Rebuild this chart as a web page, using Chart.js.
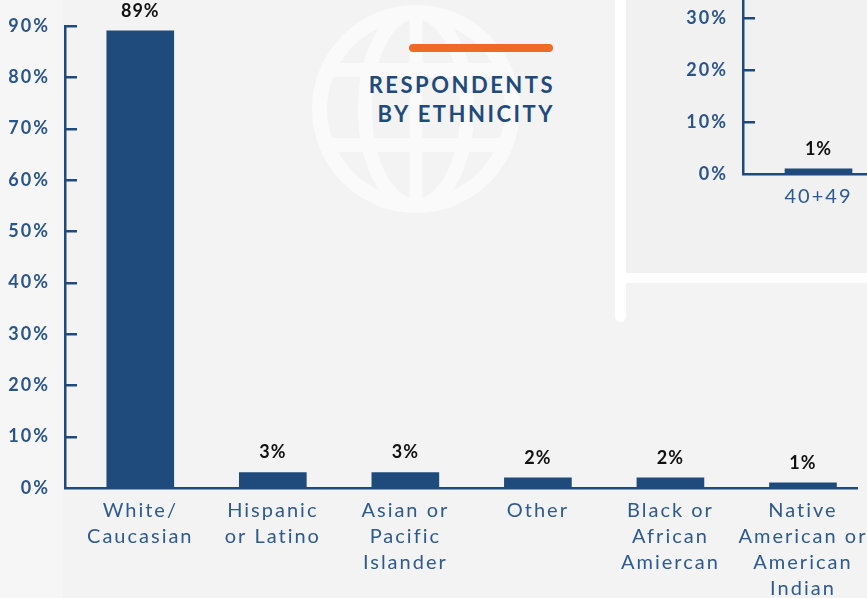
<!DOCTYPE html>
<html>
<head>
<meta charset="utf-8">
<script src="https://cdn.jsdelivr.net/npm/chart.js@4"></script>
<style>
  html, body { margin: 0; padding: 0; }
  body { width: 867px; height: 598px; overflow: hidden; position: relative; background: #f3f3f3; font-family: Lato, sans-serif; }
  .strip { position: absolute; left: 0; top: 0; width: 63px; height: 598px; background: #f6f6f6; }
  .panel { position: absolute; left: 625px; top: 0; width: 260px; height: 273px; background: #f1f1f1; }
  .frame-v { position: absolute; left: 615px; top: -20px; width: 11px; height: 342px; background: #fff; border-radius: 6px; }
  .frame-h { position: absolute; left: 620px; top: 273px; width: 260px; height: 10px; background: #fff; }
  #globe { position: absolute; left: 0; top: 0; }
  .rule { position: absolute; left: 409px; top: 44px; width: 144px; height: 8px; border-radius: 4px; background: #ef6a27; }
  .title { position: absolute; right: 312px; top: 70px; margin: 0; text-align: right; font: 700 22px/29px Lato, sans-serif; letter-spacing: 2.5px; color: #1f4a7c; }
  #main { position: absolute; left: 0; top: 0; }
  .inset { position: absolute; left: 630px; top: -70px; width: 300px; height: 300px; }
</style>
</head>
<body>
<div class="strip"></div>
<div class="panel"></div>
<div class="frame-v"></div>
<div class="frame-h"></div>

<svg id="globe" width="867" height="598">
  <defs>
    <clipPath id="globeInside"><circle cx="416" cy="109" r="92"/></clipPath>
  </defs>
  <g fill="none" stroke="#fafafa">
    <circle cx="416" cy="109" r="96.5" stroke-width="15"/>
    <g clip-path="url(#globeInside)">
      <ellipse cx="416" cy="109" rx="51" ry="97" stroke-width="14"/>
      <line x1="416" y1="0" x2="416" y2="220" stroke-width="13"/>
      <line x1="300" y1="70" x2="540" y2="70" stroke-width="14"/>
      <line x1="300" y1="145" x2="540" y2="145" stroke-width="14"/>
    </g>
  </g>
</svg>

<div class="rule"></div>
<p class="title">RESPONDENTS<br>BY ETHNICITY</p>

<div class="inset"><canvas id="ages" width="300" height="300"></canvas></div>
<canvas id="main" width="867" height="598"></canvas>

<script>
const ethnicities = [
  ['White/', 'Caucasian'],
  ['Hispanic', 'or Latino'],
  ['Asian or', 'Pacific', 'Islander'],
  ['Other'],
  ['Black or', 'African', 'Amiercan'],
  ['Native', 'American or', 'American', 'Indian']
];
const ethnicityShares = [89, 3, 3, 2, 2, 1];

const ageGroups = ['40+49'];
const ageShares = [1];

const NAVY = '#1f4a7c';
const TICK_BLUE = '#2a5589';
const LABEL_BLUE = '#2e5a8d';

// axis text is letter-spaced like the rest of the layout
const spacedText = {
  id: 'spacedText',
  beforeDraw(chart) { chart.ctx.letterSpacing = '2px'; }
};

// short tick marks pointing into the plot from the y axis
const innerTicks = {
  id: 'innerTicks',
  afterDraw(chart) {
    const {ctx, chartArea, scales: {y}} = chart;
    ctx.save();
    ctx.strokeStyle = NAVY;
    ctx.lineWidth = 2.5;
    y.ticks.forEach(t => {
      if (t.value === 0) return;
      const py = Math.round(y.getPixelForValue(t.value)) + 0.25;
      ctx.beginPath();
      ctx.moveTo(chartArea.left, py);
      ctx.lineTo(chartArea.left + 12, py);
      ctx.stroke();
    });
    ctx.restore();
  }
};

// percentage written above each bar
const valueLabels = {
  id: 'valueLabels',
  afterDatasetsDraw(chart) {
    const {ctx} = chart;
    const ds = chart.data.datasets[0];
    ctx.save();
    ctx.letterSpacing = '1px';
    ctx.font = 'bold 18px Lato';
    ctx.fillStyle = '#111';
    ctx.textAlign = 'center';
    ctx.textBaseline = 'bottom';
    chart.getDatasetMeta(0).data.forEach((bar, i) => {
      const v = typeof ds.data[i] === 'object' ? ds.data[i].y : ds.data[i];
      ctx.fillText(v + '%', bar.x, bar.y - 11);
    });
    ctx.restore();
  }
};

function yAxis(max, width) {
  return {
    min: 0,
    max: max,
    grid: { display: false, drawTicks: false },
    border: { display: true, color: NAVY, width: 2.5 },
    ticks: {
      stepSize: 10,
      padding: 15,
      color: TICK_BLUE,
      font: { family: 'Lato', size: 18, weight: 'bold' },
      callback: v => v + '%'
    },
    afterFit: s => { s.width = width; }
  };
}

const xTickStyle = {
  maxRotation: 0,
  autoSkip: false,
  padding: 10,
  color: LABEL_BLUE,
  font: { family: 'Lato', size: 20, lineHeight: 1.3 }
};

// the x axis is numeric so the first bar can sit a little away from the y axis;
// one tick per category index carries the category name
new Chart(document.getElementById('main'), {
  type: 'bar',
  data: {
    datasets: [{
      data: ethnicityShares.map((v, i) => ({ x: i, y: v })),
      backgroundColor: NAVY,
      barThickness: 67
    }]
  },
  options: {
    responsive: false,
    animation: false,
    devicePixelRatio: 1,
    layout: { padding: { top: 23, right: 8, bottom: 0, left: 0 } },
    plugins: { legend: { display: false }, tooltip: { enabled: false } },
    scales: {
      x: {
        type: 'linear',
        offset: false,
        bounds: 'data',
        min: -0.568,
        max: 5.41,
        grid: { display: false, drawTicks: false, offset: false },
        border: { display: true, color: NAVY, width: 2.5 },
        ticks: Object.assign({}, xTickStyle, {
          callback: v => ethnicities[v] || ''
        }),
        afterBuildTicks: s => { s.ticks = ethnicities.map((_, i) => ({ value: i })); },
        afterFit: s => { s.height = 110; }
      },
      y: yAxis(90, 65)
    }
  },
  plugins: [spacedText, innerTicks, valueLabels]
});

new Chart(document.getElementById('ages'), {
  type: 'bar',
  data: {
    labels: ageGroups,
    datasets: [{ data: ageShares, backgroundColor: NAVY, barThickness: 67 }]
  },
  options: {
    responsive: false,
    animation: false,
    devicePixelRatio: 1,
    layout: { padding: { top: 36, right: 36, bottom: 0, left: 0 } },
    plugins: { legend: { display: false }, tooltip: { enabled: false } },
    scales: {
      x: {
        grid: { display: false, drawTicks: false },
        border: { display: true, color: NAVY, width: 2.5 },
        ticks: xTickStyle,
        afterFit: s => { s.height = 56; }
      },
      y: yAxis(40, 113)
    }
  },
  plugins: [spacedText, innerTicks, valueLabels]
});
</script>
</body>
</html>
